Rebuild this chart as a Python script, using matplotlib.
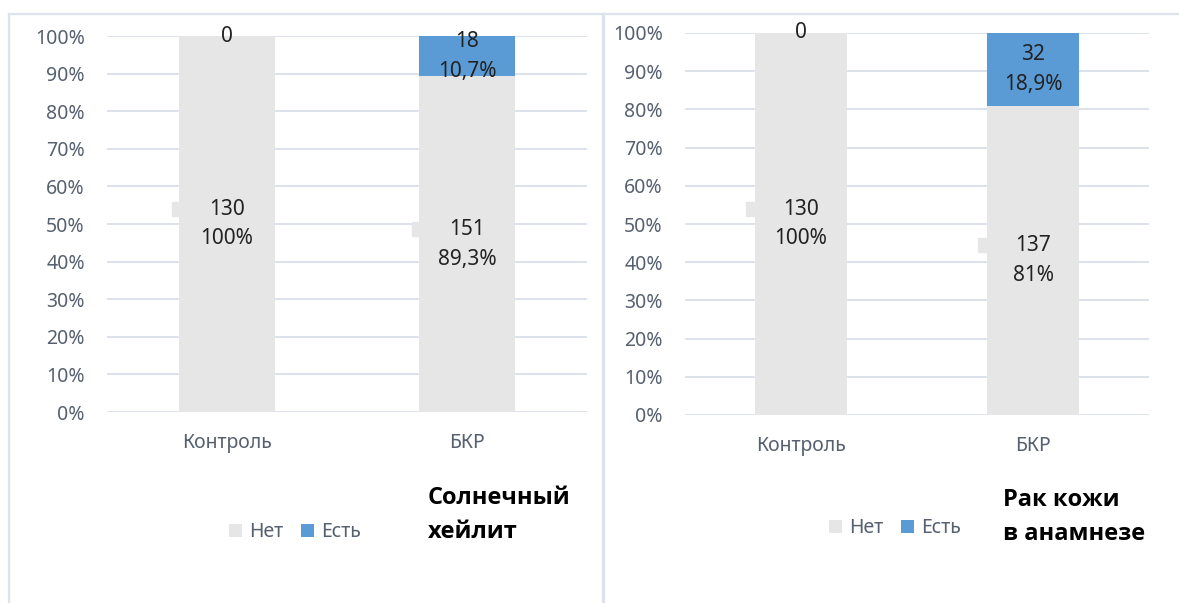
import matplotlib
matplotlib.use("Agg")
import matplotlib.pyplot as plt
from matplotlib.patches import Patch
from matplotlib.lines import Line2D
from matplotlib.transforms import ScaledTranslation

plt.rcParams['font.family'] = ['Noto Sans', 'DejaVu Sans']

# ---- data ----
categories = ["Контроль", "БКР"]
series_names = ["Нет", "Есть"]

# Солнечный хейлит
cheilitis_no_n = [130, 151]
cheilitis_yes_n = [0, 18]
cheilitis_no_pct = [100, 89.3]
cheilitis_yes_pct = [0, 10.7]

# Рак кожи в анамнезе
cancer_no_n = [130, 137]
cancer_yes_n = [0, 32]
cancer_no_pct = [100, 81]
cancer_yes_pct = [0, 18.9]

yticks = [0, 10, 20, 30, 40, 50, 60, 70, 80, 90, 100]
ytick_labels = ["0%", "10%", "20%", "30%", "40%", "50%", "60%", "70%", "80%", "90%", "100%"]

titles = ["Солнечный\nхейлит", "Рак кожи\nв анамнезе"]

# ---- style ----
C_NO = "#E7E6E6"
C_YES = "#5B9BD5"
C_GRID = "#D9DEE8"
C_AXTXT = "#56606F"
C_LBL = "#222222"
C_FRAME = "#DCE3EC"

W, H = 1179, 603
fig = plt.figure(figsize=(W / 100, H / 100), dpi=100)


def fmt_pct(v):
    return ("%g" % v).replace(".", ",") + "%"


def draw_panel(rect, no_n, yes_n, no_pct, yes_pct, title, title_xy, legend_xy):
    ax = fig.add_axes(rect)
    x = list(range(len(categories)))
    ax.bar(x, no_pct, width=0.4, color=C_NO, zorder=2)
    ax.bar(x, yes_pct, width=0.4, bottom=no_pct, color=C_YES, zorder=2)

    ax.set_xlim(-0.5, len(categories) - 0.5)
    ax.set_ylim(0, 100)
    ax.set_yticks(yticks)
    ax.set_yticklabels(ytick_labels)
    ax.set_xticks(x)
    ax.set_xticklabels(categories)
    ax.tick_params(axis="y", length=0, pad=16, labelsize=14, labelcolor=C_AXTXT)
    ax.tick_params(axis="x", length=0, pad=15, labelsize=14, labelcolor=C_AXTXT)
    for s in ax.spines.values():
        s.set_visible(False)
    ax.grid(axis="y", color=C_GRID, linewidth=1.3, zorder=0)
    ax.set_axisbelow(True)

    key_shift = ScaledTranslation(-48 / 100, 15 / 100, fig.dpi_scale_trans)
    for i in x:
        # "Нет" segment label
        ax.text(i, no_pct[i] / 2, "%d\n%s" % (no_n[i], fmt_pct(no_pct[i])),
                ha="center", va="center", fontsize=15, color=C_LBL,
                linespacing=1.55, zorder=4)
        ax.plot([i], [no_pct[i] / 2], marker="s", markersize=9.5, color=C_NO,
                linestyle="none", transform=ax.transData + key_shift,
                zorder=1, clip_on=False)
        # "Есть" segment label
        y_mid = no_pct[i] + yes_pct[i] / 2
        if yes_n[i] == 0:
            txt = "%d" % yes_n[i]
        else:
            txt = "%d\n%s" % (yes_n[i], fmt_pct(yes_pct[i]))
        ax.text(i, y_mid, txt, ha="center", va="center", fontsize=15,
                color=C_LBL, linespacing=1.55, zorder=4)

    handles = [Patch(facecolor=C_NO, edgecolor="none"),
               Patch(facecolor=C_YES, edgecolor="none")]
    fig.legend(handles, series_names, loc="center", ncol=2, frameon=False,
               bbox_to_anchor=(legend_xy[0] / W, 1 - legend_xy[1] / H),
               fontsize=14, labelcolor=C_AXTXT, handlelength=0.65,
               handleheight=0.65, handletextpad=0.4, columnspacing=0.9)

    fig.text(title_xy[0] / W, 1 - title_xy[1] / H, title, ha="left",
             va="center", fontsize=17, fontweight="bold", color="black",
             linespacing=1.5, family=["Open Sans", "DejaVu Sans"])
    return ax


draw_panel([107 / W, 1 - 412 / H, 480 / W, 376 / H],
           cheilitis_no_n, cheilitis_yes_n, cheilitis_no_pct, cheilitis_yes_pct,
           titles[0], (428, 515), (295, 532))
draw_panel([685 / W, 1 - 415 / H, 464 / W, 382 / H],
           cancer_no_n, cancer_yes_n, cancer_no_pct, cancer_yes_pct,
           titles[1], (1003, 517), (895, 528))

# chart frames
fig.add_artist(Line2D([9 / W, 9 / W], [0, 1 - 14 / H], color=C_FRAME, lw=1.6))
fig.add_artist(Line2D([603 / W, 603 / W], [0, 1 - 14 / H], color=C_FRAME, lw=2.4))
fig.add_artist(Line2D([9 / W, 1], [1 - 14 / H, 1 - 14 / H], color=C_FRAME, lw=1.6))

fig.savefig("out.png", dpi=100, facecolor="white")
